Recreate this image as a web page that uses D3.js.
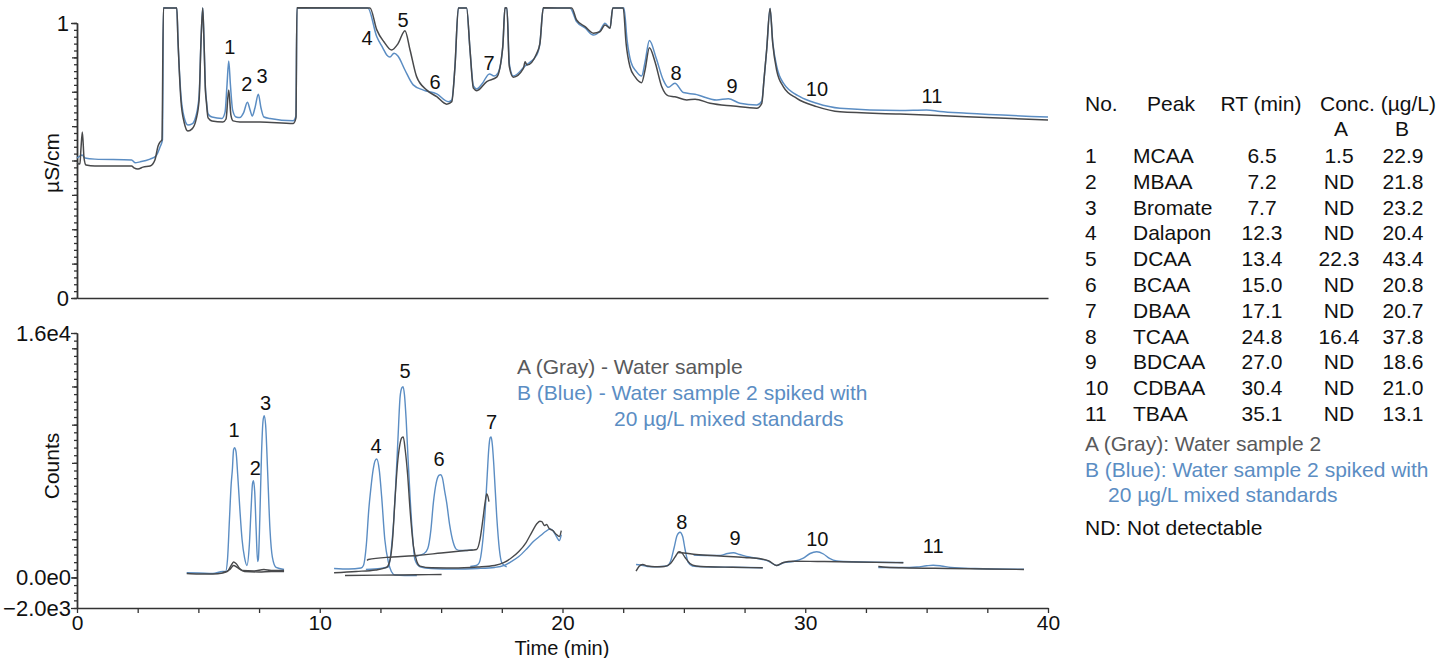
<!DOCTYPE html>
<html>
<head>
<meta charset="utf-8">
<script src="https://cdn.jsdelivr.net/npm/d3@7"></script>
<style>
  body { margin: 0; background: #fff; }
  text { font-family: "Liberation Sans", Arial, Helvetica, sans-serif; }
</style>
</head>
<body>
<svg id="chart" width="1453" height="658"></svg>
<script>
// ---- data: [time (min), value] ----
// conductivity, sample A (gray)
var condA = [[0,0.491],[0.12,0.487],[0.16,0.538],[0.22,0.604],[0.29,0.509],[0.37,0.484],[0.74,0.48],[2.25,0.48],[2.35,0.473],[2.51,0.469],[2.72,0.476],[3.01,0.48],[3.21,0.502],[3.34,0.553],[3.42,0.567],[3.5,0.575],[3.56,1.055],[4.11,1.055],[4.16,0.938],[4.28,0.72],[4.41,0.64],[4.57,0.607],[4.74,0.615],[4.9,0.647],[5.03,0.72],[5.11,0.938],[5.18,1.055],[5.23,0.938],[5.29,0.756],[5.33,0.713],[5.4,0.655],[5.56,0.644],[6.01,0.64],[6.14,0.651],[6.25,0.756],[6.34,0.665],[6.43,0.644],[6.71,0.64],[7.54,0.64],[8.91,0.635],[9.02,0.655],[9.06,1.055],[12.07,1.055],[12.35,0.975],[12.65,0.931],[12.96,0.902],[13.22,0.924],[13.51,0.972],[13.72,0.902],[13.99,0.805],[14.41,0.756],[14.82,0.732],[15.23,0.705],[15.44,0.714],[15.57,0.841],[15.71,1.055],[16.05,1.055],[16.19,0.902],[16.33,0.763],[16.47,0.754],[16.88,0.787],[17.29,0.803],[17.54,0.914],[17.63,1.055],[17.71,1.055],[17.81,0.841],[17.97,0.803],[18.39,0.835],[18.46,0.859],[18.54,0.847],[18.94,0.89],[19.07,0.926],[19.21,1.055],[20.38,1.055],[20.58,1.011],[20.93,0.987],[21.27,0.963],[21.54,0.968],[21.75,0.993],[21.96,0.981],[22.07,1.055],[22.5,1.055],[22.62,0.926],[22.78,0.841],[22.99,0.804],[23.26,0.783],[23.4,0.829],[23.58,0.91],[23.81,0.859],[24.09,0.768],[24.36,0.735],[24.63,0.732],[25.12,0.72],[25.46,0.723],[26.08,0.708],[27.04,0.698],[28.0,0.69],[28.21,0.708],[28.3,0.793],[28.41,0.902],[28.55,1.053],[28.66,0.926],[28.82,0.829],[29.1,0.768],[29.65,0.726],[30.47,0.696],[31.43,0.677],[33.9,0.669],[36.65,0.659],[40,0.647]];
// conductivity, sample B (blue)
var condB = [[0,0.509],[0.12,0.516],[0.21,0.52],[0.33,0.509],[0.74,0.505],[2.25,0.502],[2.39,0.492],[2.6,0.495],[3.01,0.505],[3.25,0.516],[3.42,0.549],[3.52,0.575],[3.56,1.055],[4.11,1.055],[4.16,0.938],[4.28,0.738],[4.41,0.658],[4.57,0.629],[4.74,0.633],[4.9,0.662],[5.03,0.735],[5.11,0.938],[5.18,1.055],[5.23,0.938],[5.29,0.764],[5.33,0.72],[5.4,0.669],[5.56,0.658],[5.97,0.653],[6.1,0.676],[6.18,0.775],[6.25,0.862],[6.32,0.775],[6.41,0.684],[6.55,0.658],[6.71,0.656],[6.86,0.673],[7.02,0.712],[7.13,0.684],[7.22,0.662],[7.33,0.691],[7.47,0.741],[7.58,0.691],[7.7,0.658],[7.95,0.653],[8.91,0.645],[9.02,0.662],[9.06,1.055],[11.98,1.055],[12.35,0.95],[12.6,0.909],[12.76,0.884],[12.89,0.876],[13.06,0.89],[13.22,0.88],[13.51,0.829],[13.85,0.775],[14.27,0.756],[14.82,0.742],[15.3,0.714],[15.44,0.72],[15.57,0.841],[15.71,1.055],[16.05,1.055],[16.19,0.902],[16.33,0.771],[16.47,0.76],[16.68,0.778],[16.99,0.815],[17.18,0.807],[17.34,0.818],[17.54,0.914],[17.63,1.055],[17.71,1.055],[17.81,0.851],[17.97,0.807],[18.46,0.844],[18.94,0.884],[19.07,0.926],[19.21,1.055],[20.31,1.055],[20.58,1.005],[20.93,0.982],[21.27,0.956],[21.54,0.971],[21.75,0.999],[21.96,0.982],[22.07,1.055],[22.53,1.055],[22.66,0.938],[22.82,0.858],[23.03,0.825],[23.26,0.807],[23.4,0.858],[23.58,0.936],[23.86,0.872],[24.15,0.793],[24.36,0.766],[24.63,0.781],[24.98,0.747],[25.46,0.741],[26.35,0.72],[26.83,0.725],[27.31,0.708],[28.0,0.702],[28.21,0.716],[28.3,0.793],[28.41,0.902],[28.55,1.053],[28.66,0.931],[28.82,0.844],[29.1,0.781],[29.78,0.732],[30.47,0.708],[31.43,0.69],[33.9,0.682],[35.0,0.684],[35.55,0.678],[36.65,0.672],[40,0.658]];

// MS channels (counts), sample A (gray)
var msA1 = [[4.52,261],[5.0,229],[5.6,229],[6.0,294],[6.2,392],[6.35,784],[6.45,1012],[6.55,914],[6.7,588],[6.9,392],[7.5,359],[8.0,392],[8.53,392]];
var msA2 = [[6.0,327],[6.3,522],[6.45,784],[6.6,653],[6.8,457],[7.3,425],[7.7,522],[8.0,457],[8.53,457]];
var msA3 = [[10.59,307],[11.5,392],[12.3,490],[12.75,653],[12.9,1175],[13.0,2482],[13.1,5094],[13.2,7380],[13.3,8686],[13.38,9143],[13.44,9189],[13.52,8359],[13.62,6726],[13.72,4441],[13.86,2044],[14.0,1045],[14.13,738],[14.6,633],[15.5,620],[16.5,686],[17.2,784],[17.6,980],[17.9,1287],[18.2,1698],[18.5,2286],[18.75,3004],[18.95,3526],[19.07,3677],[19.15,3657],[19.25,3396],[19.35,3461],[19.45,3200],[19.6,3069],[19.75,2808],[19.87,2678],[19.95,3069]];
var msA4 = [[11.04,131],[12.5,150],[14.0,176],[15.02,196]];
var msA5 = [[11.95,1110],[12.0,1175],[13.0,1339],[14.0,1437],[15.0,1600],[16.0,1763],[16.46,1829],[16.6,2482],[16.72,3788],[16.81,4898],[16.88,5486],[16.93,5290],[16.97,4963]];
var msA6 = [[23.03,411],[23.15,718],[23.3,849],[23.5,751],[23.8,699],[24.2,718],[24.45,914],[24.65,1371],[24.8,1678],[24.9,1633],[25.05,1306],[25.25,914],[25.5,751],[26.0,699],[27.0,666],[28.25,633]];
var msA7 = [[24.75,1633],[25.0,1600],[25.5,1502],[26.5,1404],[27.5,1306],[28.2,1208],[28.5,1078],[28.82,784],[29.1,980],[29.5,1064],[30.5,1045],[32.0,1012],[34.04,960]];
var msA8 = [[33.01,718],[33.2,686],[34.0,633],[36.0,588],[37.5,555],[39.01,522]];

// MS channels (counts), sample B (blue)
var msB1 = [[4.52,307],[5.0,294],[5.6,261],[6.0,392],[6.12,392],[6.2,1175],[6.28,3788],[6.35,6073],[6.4,7053],[6.45,8359],[6.49,8490],[6.55,8229],[6.62,6726],[6.71,4441],[6.8,2482],[6.9,1306],[7.0,784],[7.1,2155],[7.17,4441],[7.23,6139],[7.27,6335],[7.32,5616],[7.38,3135],[7.44,1045],[7.47,1175],[7.53,3788],[7.6,8033],[7.66,10188],[7.71,10580],[7.77,9992],[7.85,7053],[7.95,3135],[8.05,1306],[8.2,653],[8.53,522]];
var msB2 = [[10.59,588],[11.2,555],[11.7,620],[11.8,784],[11.92,2155],[12.02,4441],[12.1,5747],[12.2,7053],[12.28,7641],[12.35,7752],[12.45,7053],[12.55,5290],[12.68,2482],[12.83,980],[12.95,392],[13.1,163],[13.5,131],[14.0,131]];
var msB3 = [[11.9,522],[12.5,588],[12.83,699],[12.96,2044],[13.05,3788],[13.12,5747],[13.22,9012],[13.31,11820],[13.38,12408],[13.43,12493],[13.49,11951],[13.56,10318],[13.64,7706],[13.72,5290],[13.82,2808],[13.92,1175],[14.13,699],[14.6,588],[15.5,555],[16.5,588],[17.2,653],[17.6,784],[17.9,1045],[18.2,1371],[18.5,1829],[18.8,2351],[19.1,2743],[19.3,3004],[19.49,3180],[19.6,3069],[19.75,2678],[19.87,2416],[19.95,2808]];
var msB4 = [[13.9,1371],[14.3,1567],[14.45,1894],[14.58,3135],[14.68,4878],[14.8,6204],[14.92,6693],[14.98,6726],[15.05,6531],[15.15,5616],[15.23,4878],[15.35,3461],[15.5,2286],[15.64,1829],[15.8,1763],[16.3,1796]];
var msB5 = [[16.2,718],[16.45,784],[16.57,960],[16.7,2155],[16.81,4225],[16.9,6726],[16.96,8359],[17.02,9143],[17.06,9189],[17.11,8686],[17.17,7380],[17.29,4003],[17.4,1829],[17.5,960],[17.7,699]];
var msB6 = [[23.03,849],[23.2,816],[23.5,718],[23.9,699],[24.3,751],[24.45,1045],[24.6,1959],[24.72,2743],[24.84,2958],[24.95,2678],[25.05,1829],[25.18,980],[25.35,751],[25.8,699],[27.0,666],[28.25,633]];
var msB7 = [[25.4,1469],[26.0,1437],[26.5,1437],[26.8,1567],[27.04,1613],[27.3,1502],[27.7,1339],[28.2,1189],[28.5,1058],[28.82,784],[29.1,960],[29.5,1045],[29.9,1241],[30.2,1567],[30.47,1678],[30.75,1535],[31.0,1241],[31.3,1078],[32.0,1025],[34.04,980]];
var msB8 = [[33.01,653],[34.0,653],[34.6,686],[35.0,764],[35.27,797],[35.6,751],[36.0,653],[37.0,588],[39.01,542]];

// peak labels [label, time, value at text baseline]
var topLabels = [["1",6.30,0.887],["2",7.00,0.753],["3",7.62,0.782],["4",11.95,0.92],["5",13.43,0.985],["6",14.75,0.76],["7",16.97,0.83],["8",24.68,0.793],["9",26.98,0.745],["10",30.48,0.735],["11",35.22,0.709]];
var bottomLabels = [["1",6.47,9189],["2",7.35,6707],["3",7.77,10971],["4",12.32,8143],["5",13.51,13081],["6",14.92,7268],["7",17.08,9731],["8",24.91,3200],["9",27.11,2155],["10",30.5,2090],["11",35.27,1613]];

// table
var tableNo = ["1","2","3","4","5","6","7","8","9","10","11"];
var tablePeak = ["MCAA","MBAA","Bromate","Dalapon","DCAA","BCAA","DBAA","TCAA","BDCAA","CDBAA","TBAA"];
var tableRT = ["6.5","7.2","7.7","12.3","13.4","15.0","17.1","24.8","27.0","30.4","35.1"];
var tableA = ["1.5","ND","ND","ND","22.3","ND","ND","16.4","ND","ND","ND"];
var tableB = ["22.9","21.8","23.2","20.4","43.4","20.8","20.7","37.8","18.6","21.0","13.1"];

var xTicks = [0, 10, 20, 30, 40];

var gray = "#48494b", blue = "#5b8dc3", axisColor = "#333";

var svg = d3.select("#chart");

var x = d3.scaleLinear().domain([0, 40]).range([77, 1048]);
var yTop = d3.scaleLinear().domain([0, 1]).range([298, 23]);
var yBot = d3.scaleLinear().domain([-2000, 16000]).range([608, 333]);

function styleAxis(g, size) {
    g.selectAll("path, line").attr("stroke", axisColor).attr("stroke-width", 1.3);
    g.selectAll("text").attr("fill", "#111").style("font-size", (size || 22) + "px")
        .style("font-family", '"Liberation Sans", Arial, sans-serif');
}

// ---- top panel axes ----
svg.append("g").attr("transform", "translate(77,0)")
    .call(d3.axisLeft(yTop).tickValues(d3.range(0, 1.0001, 0.025)).tickSize(3).tickFormat("").tickSizeOuter(0))
    .call(styleAxis);
svg.append("g").attr("transform", "translate(77,0)")
    .call(d3.axisLeft(yTop).tickValues(d3.range(0, 1.0001, 0.125)).tickSize(5).tickFormat("").tickSizeOuter(0))
    .call(styleAxis);
svg.append("g").attr("transform", "translate(77,0)")
    .call(d3.axisLeft(yTop).tickValues([0, 1]).tickSize(6).tickPadding(2).tickFormat(d3.format("d")).tickSizeOuter(0))
    .call(styleAxis);
svg.append("g").attr("transform", "translate(0,298)")
    .call(d3.axisBottom(x).tickValues([]).tickSizeOuter(0))
    .call(styleAxis);

// ---- bottom panel axes ----
svg.append("g").attr("transform", "translate(77,0)")
    .call(d3.axisLeft(yBot).tickValues(d3.range(-2000, 16001, 500)).tickSize(3).tickFormat("").tickSizeOuter(0))
    .call(styleAxis);
svg.append("g").attr("transform", "translate(77,0)")
    .call(d3.axisLeft(yBot).tickValues(d3.range(0, 16001, 2500)).tickSize(5).tickFormat("").tickSizeOuter(0))
    .call(styleAxis);
svg.append("g").attr("transform", "translate(77,0)")
    .call(d3.axisLeft(yBot).tickValues([-2000, 0, 16000]).tickSize(6).tickPadding(0)
        .tickFormat(function(d) { return d3.format(".1e")(d).replace("+", ""); }).tickSizeOuter(0))
    .call(styleAxis);
svg.append("g").attr("transform", "translate(0,608)")
    .call(d3.axisBottom(x).tickValues(d3.range(0, 40.01, 2.5)).tickSize(5).tickPadding(2)
        .tickFormat(function(d) { return xTicks.indexOf(d) >= 0 ? d : ""; }).tickSizeOuter(0))
    .call(styleAxis, 21);

// axis titles
svg.append("text")
    .attr("transform", "translate(59,163) rotate(-90)")
    .style("text-anchor", "middle").style("font-size", "21px").attr("fill", "#111")
    .text("µS/cm");
svg.append("text")
    .attr("transform", "translate(59,466) rotate(-90)")
    .style("text-anchor", "middle").style("font-size", "21px").attr("fill", "#111")
    .text("Counts");
svg.append("text")
    .attr("x", 562).attr("y", 655)
    .style("text-anchor", "middle").style("font-size", "20px").attr("fill", "#111")
    .text("Time (min)");

// ---- traces ----
var lineTop = d3.line().x(function(d) { return x(d[0]); }).y(function(d) { return yTop(d[1]); }).curve(d3.curveMonotoneX);
var lineBot = d3.line().x(function(d) { return x(d[0]); }).y(function(d) { return yBot(d[1]); }).curve(d3.curveMonotoneX);

svg.append("path").datum(condB).attr("d", lineTop)
    .attr("fill", "none").attr("stroke", blue).attr("stroke-width", 1.5);
svg.append("path").datum(condA).attr("d", lineTop)
    .attr("fill", "none").attr("stroke", gray).attr("stroke-width", 1.5);

var blueSegs = [msB1, msB2, msB3, msB4, msB5, msB6, msB7, msB8];
var graySegs = [msA1, msA2, msA3, msA4, msA5, msA6, msA7, msA8];

svg.append("g").selectAll("path")
    .data(blueSegs).enter().append("path")
        .attr("d", lineBot)
        .attr("fill", "none").attr("stroke", blue).attr("stroke-width", 1.4);
svg.append("g").selectAll("path")
    .data(graySegs).enter().append("path")
        .attr("d", lineBot)
        .attr("fill", "none").attr("stroke", gray).attr("stroke-width", 1.4);

// peak labels
svg.append("g").selectAll("text")
    .data(topLabels).enter().append("text")
        .attr("x", function(d) { return x(d[1]); })
        .attr("y", function(d) { return yTop(d[2]); })
        .style("text-anchor", "middle").style("font-size", "20px").attr("fill", "#111")
        .text(function(d) { return d[0]; });
svg.append("g").selectAll("text")
    .data(bottomLabels).enter().append("text")
        .attr("x", function(d) { return x(d[1]); })
        .attr("y", function(d) { return yBot(d[2]); })
        .style("text-anchor", "middle").style("font-size", "20px").attr("fill", "#111")
        .text(function(d) { return d[0]; });

// legend inside bottom panel
var legend = svg.append("g").style("font-size", "21px");
legend.append("text").attr("x", 517).attr("y", 374).attr("fill", "#58595b").text("A (Gray) - Water sample");
legend.append("text").attr("x", 517).attr("y", 400).attr("fill", blue).text("B (Blue) - Water sample 2 spiked with");
legend.append("text").attr("x", 614).attr("y", 426).attr("fill", blue).text("20 µg/L mixed standards");

// ---- table ----
var table = svg.append("g").style("font-size", "21px").attr("fill", "#111");
table.append("text").attr("x", 1085).attr("y", 111).text("No.");
table.append("text").attr("x", 1171).attr("y", 111).style("text-anchor", "middle").text("Peak");
table.append("text").attr("x", 1261).attr("y", 111).style("text-anchor", "middle").text("RT (min)");
table.append("text").attr("x", 1320).attr("y", 111).text("Conc. (µg/L)");
table.append("text").attr("x", 1341).attr("y", 136).style("text-anchor", "middle").text("A");
table.append("text").attr("x", 1402).attr("y", 136).style("text-anchor", "middle").text("B");

var rowY = function(i) { return 163 + i * 25.8; };
table.append("g").selectAll("text").data(tableNo).enter().append("text")
    .attr("x", 1085).attr("y", function(d, i) { return rowY(i); }).text(function(d) { return d; });
table.append("g").selectAll("text").data(tablePeak).enter().append("text")
    .attr("x", 1133).attr("y", function(d, i) { return rowY(i); }).text(function(d) { return d; });
table.append("g").selectAll("text").data(tableRT).enter().append("text")
    .attr("x", 1262).attr("y", function(d, i) { return rowY(i); }).style("text-anchor", "middle").text(function(d) { return d; });
table.append("g").selectAll("text").data(tableA).enter().append("text")
    .attr("x", 1339).attr("y", function(d, i) { return rowY(i); }).style("text-anchor", "middle").text(function(d) { return d; });
table.append("g").selectAll("text").data(tableB).enter().append("text")
    .attr("x", 1403).attr("y", function(d, i) { return rowY(i); }).style("text-anchor", "middle").text(function(d) { return d; });

table.append("text").attr("x", 1085).attr("y", 451).attr("fill", "#58595b").text("A (Gray): Water sample 2");
table.append("text").attr("x", 1085).attr("y", 477).attr("fill", blue).text("B (Blue): Water sample 2 spiked with");
table.append("text").attr("x", 1108).attr("y", 502).attr("fill", blue).text("20 µg/L mixed standards");
table.append("text").attr("x", 1085).attr("y", 535).text("ND: Not detectable");
</script>
</body>
</html>
